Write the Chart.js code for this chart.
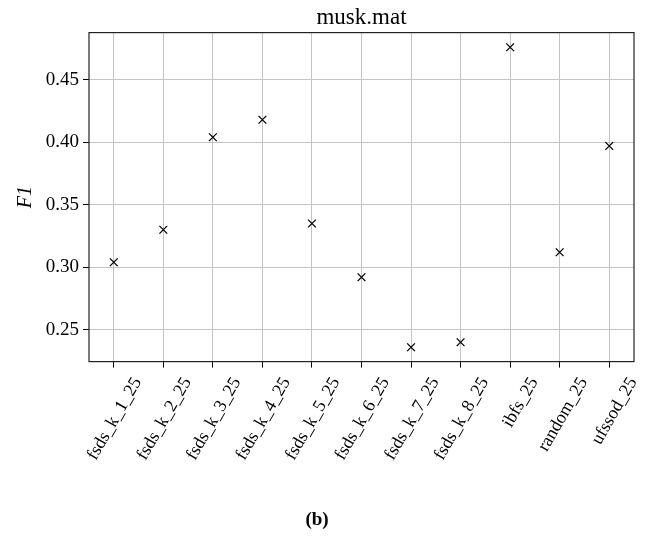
<!DOCTYPE html>
<html>
<head>
<meta charset="utf-8">
<script src="https://cdn.jsdelivr.net/npm/chart.js@4/dist/chart.umd.min.js"></script>
<style>
  body { margin: 0; background: #fff; }
  #wrap { width: 647px; height: 536px; position: relative; }
</style>
</head>
<body>
<div id="wrap"><canvas id="f1Chart"></canvas></div>
<script>
const methods = ['fsds_k_1_25', 'fsds_k_2_25', 'fsds_k_3_25', 'fsds_k_4_25', 'fsds_k_5_25',
  'fsds_k_6_25', 'fsds_k_7_25', 'fsds_k_8_25', 'ibfs_25', 'random_25', 'ufssod_25'];
const f1Scores = [0.304, 0.330, 0.404, 0.418, 0.335, 0.292, 0.236, 0.240, 0.476, 0.312, 0.397];
const yTicks = [0.25, 0.30, 0.35, 0.40, 0.45];
const yRange = [0.2245, 0.4877];

Chart.defaults.font.family = "'Liberation Serif', serif";
Chart.defaults.color = '#000';

// box around the plot area, like matplotlib spines
const frame = {
  id: 'frame',
  afterDraw(chart) {
    const {ctx, chartArea: a} = chart;
    ctx.save();
    ctx.strokeStyle = '#222';
    ctx.lineWidth = 1.2;
    ctx.strokeRect(a.left, a.top, a.right - a.left, a.bottom - a.top);
    ctx.restore();
  }
};

const cfg = {
  type: 'line',
  data: {
    labels: methods,
    datasets: [{
      data: f1Scores,
      showLine: false,
      pointStyle: 'crossRot',
      pointRadius: 5.5,
      pointBorderWidth: 1.3,
      borderColor: '#000',
      backgroundColor: '#000'
    }]
  },
  options: {
    responsive: true,
    maintainAspectRatio: false,
    animation: false,
    layout: { padding: { left: 0, right: 13, top: 0, bottom: 0 } },
    plugins: {
      legend: { display: false },
      tooltip: { enabled: false },
      title: {
        display: true,
        text: 'musk.mat',
        fullSize: false,
        font: { size: 23, weight: 'normal' },
        padding: { top: 4, bottom: 1 }
      },
      subtitle: {
        display: true,
        position: 'bottom',
        text: '(b)',
        font: { size: 19, weight: 'bold' },
        padding: { top: 0, bottom: 5 }
      }
    },
    scales: {
      x: {
        offset: true,
        grid: { color: '#c4c4c4', tickColor: '#000', tickLength: 6, lineWidth: 1 },
        border: { display: false },
        ticks: {
          autoSkip: false,
          minRotation: 60,
          maxRotation: 60,
          labelOffset: 24,
          padding: 6,
          font: { size: 18 }
        },
        afterFit(s) { s.height = 146.6; }
      },
      y: {
        min: yRange[0],
        max: yRange[1],
        afterBuildTicks(s) { s.ticks = yTicks.map(v => ({ value: v })); },
        grid: { color: '#c4c4c4', tickColor: '#000', tickLength: 6, lineWidth: 1 },
        border: { display: false },
        ticks: {
          padding: 4,
          font: { size: 19 },
          callback: v => v.toFixed(2)
        },
        title: {
          display: true,
          text: 'F1',
          font: { size: 20, style: 'italic' },
          padding: { top: 14, bottom: 0 }
        },
        afterFit(s) { s.width = 89; }
      }
    }
  },
  plugins: [frame]
};

const f1Chart = new Chart(document.getElementById('f1Chart'), cfg);
</script>
</body>
</html>
